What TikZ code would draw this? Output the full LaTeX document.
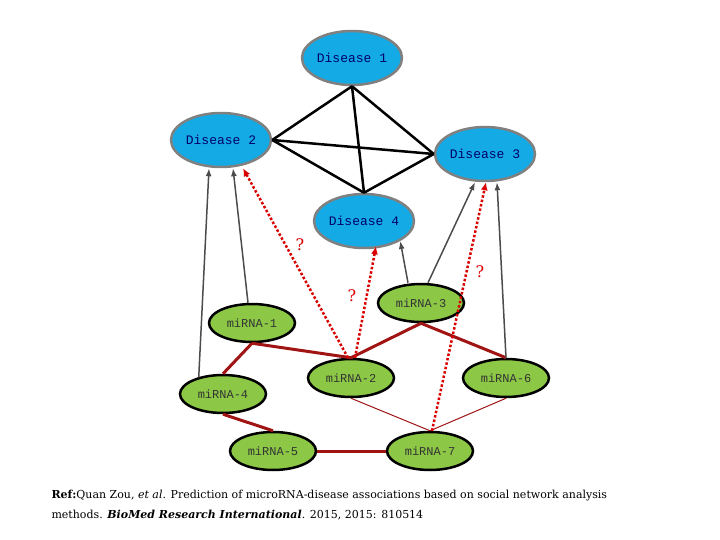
\documentclass[tikz,border=0pt]{standalone}
\usepackage{fontspec}
\setmainfont{DejaVu Serif}
\newfontfamily\monof{Liberation Mono}
\usetikzlibrary{shapes.geometric,arrows.meta}
\definecolor{dblue}{RGB}{20,170,230}
\definecolor{mgreen}{RGB}{140,200,70}
\definecolor{dred}{RGB}{160,20,20}
\begin{document}
\begin{tikzpicture}[x=1pt,y=-1pt,
  dis/.style={ellipse,draw=gray,line width=2.5pt,fill=dblue,minimum width=100pt,minimum height=54pt,inner sep=0pt,font=\monof\fontsize{13}{13}\selectfont,text=blue!40!black},
  mir/.style={ellipse,draw=black,line width=2.5pt,fill=mgreen,minimum width=86pt,minimum height=38pt,inner sep=0pt,font=\monof\fontsize{12}{12}\selectfont,text=black!80},
  blk/.style={line width=2.5pt},
  garr/.style={draw=black!70,line width=1.5pt,-{Latex[length=8pt,width=6pt]}},
  rarr/.style={draw=red!85!black,line width=2.5pt,dotted,-{Latex[length=8pt,width=7pt]}},
  thick red/.style={draw=dred,line width=3pt},
  thin red/.style={draw=dred,line width=1pt},
  q/.style={text=red!85!black,font=\fontsize{16}{16}\selectfont}]
\useasboundingbox (0,0) rectangle (720,540);
\node[dis] (d1) at (352,58) {Disease 1};
\node[dis] (d2) at (221,140) {Disease 2};
\node[dis] (d3) at (485,154) {Disease 3};
\node[dis] (d4) at (364,221) {Disease 4};
\node[mir] (m1) at (252,323) {miRNA-1};
\node[mir] (m2) at (351,378) {miRNA-2};
\node[mir] (m3) at (421,303) {miRNA-3};
\node[mir] (m4) at (223,394) {miRNA-4};
\node[mir] (m5) at (273,451) {miRNA-5};
\node[mir] (m6) at (506,378) {miRNA-6};
\node[mir] (m7) at (430,451) {miRNA-7};
\draw[blk] (d1.south) -- (d2.east);
\draw[blk] (d1.south) -- (d3.west);
\draw[blk] (d1.south) -- (d4.north);
\draw[blk] (d2.east) -- (d3.west);
\draw[blk] (d2.east) -- (d4.north);
\draw[blk] (d3.west) -- (d4.north);
\draw[thick red] (m1.south) -- (m2.north);
\draw[thick red] (m1.south) -- (m4.north);
\draw[thick red] (m3.south) -- (m2.north);
\draw[thick red] (m3.south) -- (m6.north);
\draw[thick red] (m4.south) -- (m5.north);
\draw[thick red] (m5.east) -- (m7.west);
\draw[thin red] (m2.south) -- (m7.north);
\draw[thin red] (m6.south) -- (m7.north);
\draw[garr] (m4.north west) ++(7,-2) -- ([xshift=-12pt]d2.south);
\draw[garr] (m1.north) ++(-4,0) -- ([xshift=12pt]d2.south);
\draw[garr] (m3.north) ++(-13,0) -- (d4.south east);
\draw[garr] (m3.north) ++(7,0) -- ([xshift=-10pt]d3.south);
\draw[garr] (m6.north) -- ([xshift=12pt]d3.south);
\draw[rarr] ([xshift=-3pt]m2.north) -- ([xshift=22pt]d2.south);
\draw[rarr] ([xshift=4pt]m2.north) -- ([xshift=12pt,yshift=3pt]d4.south);
\draw[rarr] ([xshift=2pt]m7.north) -- ([xshift=1pt]d3.south);
\node[q] (q1) at (300,245) {?};
\node[q] (q2) at (352,296) {?};
\node[q] (q3) at (480,272) {?};
\node[anchor=west,font=\fontsize{11}{11}\selectfont] (c1) at (48,496) {\textbf{Ref:}Quan Zou, \textit{et al}. Prediction of microRNA-disease associations based on social network analysis};
\node[anchor=west,font=\fontsize{11}{11}\selectfont] (c2) at (48,515) {methods. \textbf{\textit{BioMed Research International}}. 2015, 2015: 810514};
\end{tikzpicture}
\end{document}
